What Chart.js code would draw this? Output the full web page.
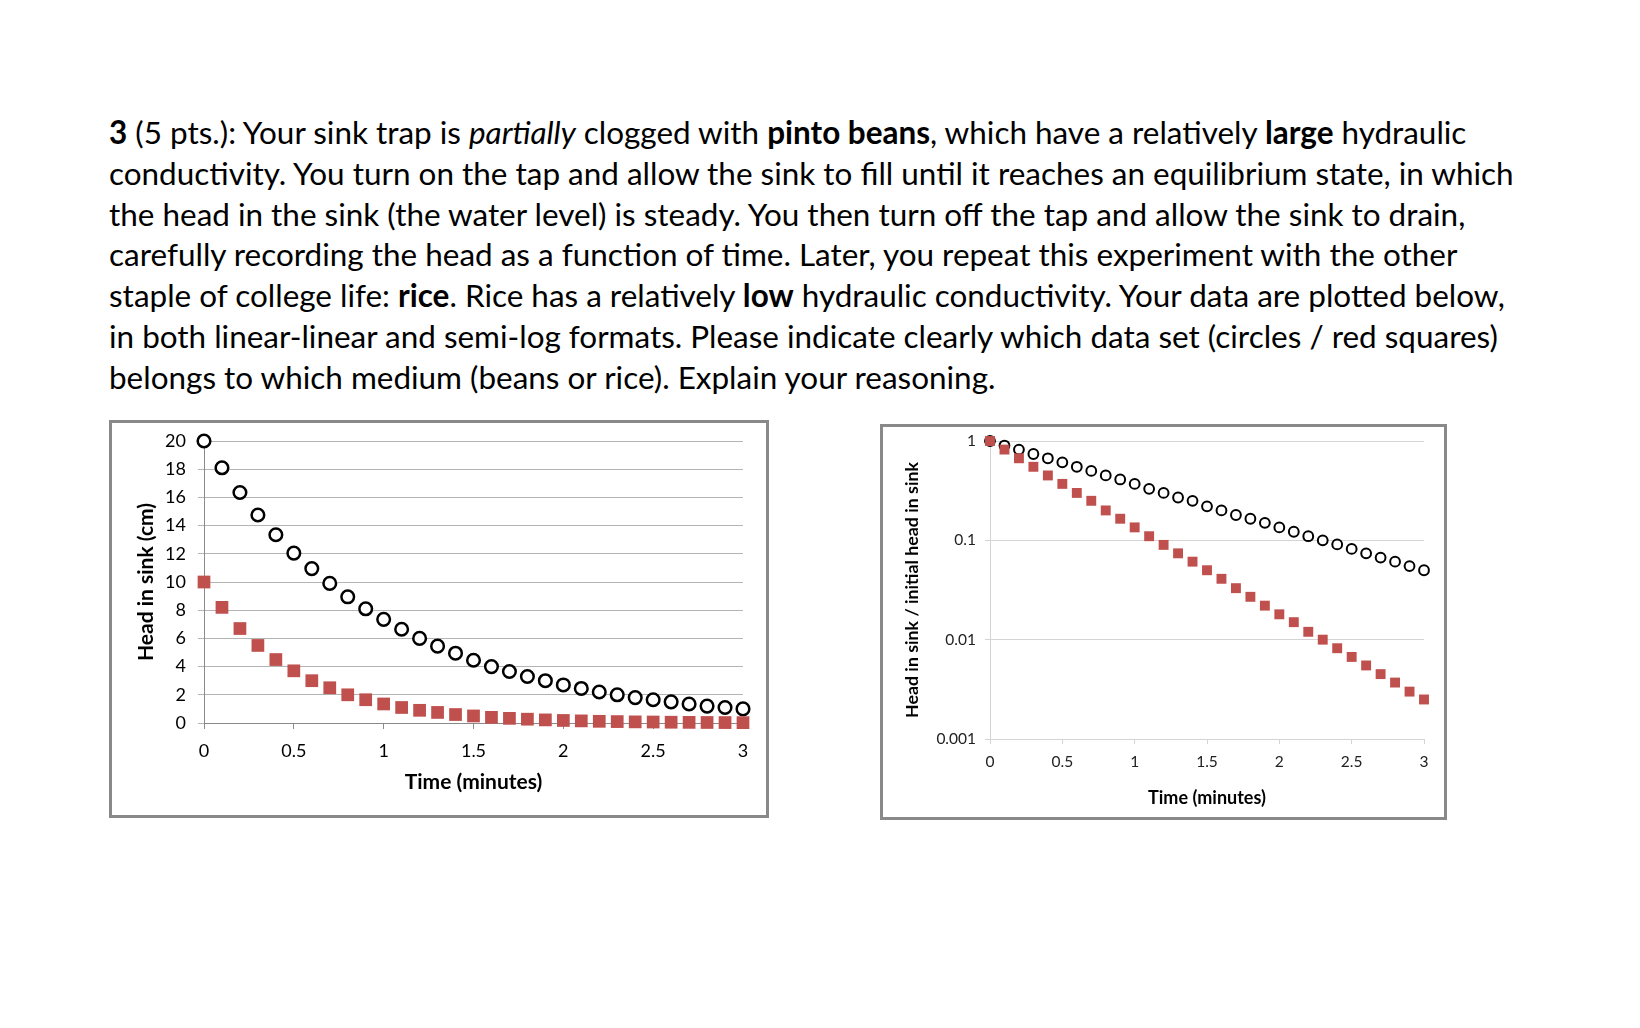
<!DOCTYPE html>
<html>
<head>
<meta charset="utf-8">
<script src="https://cdn.jsdelivr.net/npm/chart.js@4.4.1/dist/chart.umd.min.js"></script>
<style>
  body { margin: 0; background: #fff; width: 1640px; height: 1028px; position: relative; overflow: hidden; }
  #question { position: absolute; left: 109px; top: 112px; font-family: Lato, sans-serif; font-size: 31px; line-height: 40.8px; color: #000; }
  #question div { white-space: nowrap; }
  .box { position: absolute; border: 3px solid #898989; box-sizing: border-box; background: #fff; }
  .box canvas { position: absolute; left: 0; top: 0; }
</style>
</head>
<body>

<div id="question">
  <div id="line1"><b>3</b> (5 pts.): Your sink trap is <i>partially</i> clogged with <b>pinto beans</b>, which have a relatively <b>large</b> hydraulic</div>
  <div id="line2">conductivity. You turn on the tap and allow the sink to fill until it reaches an equilibrium state, in which</div>
  <div>the head in the sink (the water level) is steady. You then turn off the tap and allow the sink to drain,</div>
  <div>carefully recording the head as a function of time. Later, you repeat this experiment with the other</div>
  <div>staple of college life: <b>rice</b>. Rice has a relatively <b>low</b> hydraulic conductivity. Your data are plotted below,</div>
  <div>in both linear-linear and semi-log formats. Please indicate clearly which data set (circles / red squares)</div>
  <div>belongs to which medium (beans or rice). Explain your reasoning.</div>
</div>

<div class="box" style="left:109px; top:420px; width:660px; height:398px;">
  <canvas id="linear-chart" width="654" height="392"></canvas>
</div>
<div class="box" style="left:880px; top:424px; width:567px; height:396px;">
  <canvas id="log-chart" width="561" height="390"></canvas>
</div>

<script>
// time of each reading (minutes)
var times = [0, 0.1, 0.2, 0.3, 0.4, 0.5, 0.6, 0.7, 0.8, 0.9, 1.0,
             1.1, 1.2, 1.3, 1.4, 1.5, 1.6, 1.7, 1.8, 1.9, 2.0,
             2.1, 2.2, 2.3, 2.4, 2.5, 2.6, 2.7, 2.8, 2.9, 3.0];

// head in sink (cm)
var circleHeads = [20, 18.1, 16.35, 14.75, 13.35, 12.05, 10.95, 9.9, 8.95, 8.1, 7.35,
                   6.65, 6.0, 5.45, 4.95, 4.45, 4.0, 3.65, 3.3, 3.0, 2.7,
                   2.45, 2.2, 2.0, 1.8, 1.65, 1.5, 1.35, 1.2, 1.1, 1.0];
var squareHeads = [10, 8.2, 6.7, 5.5, 4.5, 3.7, 3.0, 2.5, 2.0, 1.65, 1.35,
                   1.1, 0.9, 0.75, 0.6, 0.5, 0.4, 0.33, 0.27, 0.22, 0.18,
                   0.15, 0.12, 0.1, 0.08, 0.07, 0.055, 0.045, 0.037, 0.03, 0.025];

// head / initial head
var circleRatios = [1, 0.9, 0.82, 0.74, 0.67, 0.61, 0.55, 0.5, 0.45, 0.41, 0.37,
                    0.33, 0.3, 0.27, 0.25, 0.22, 0.2, 0.18, 0.165, 0.15, 0.135,
                    0.122, 0.11, 0.1, 0.091, 0.082, 0.074, 0.067, 0.061, 0.055, 0.05];
var squareRatios = [1, 0.82, 0.67, 0.55, 0.45, 0.37, 0.3, 0.25, 0.2, 0.165, 0.135,
                    0.11, 0.09, 0.074, 0.061, 0.05, 0.041, 0.033, 0.027, 0.022, 0.018,
                    0.015, 0.012, 0.01, 0.0082, 0.0067, 0.0055, 0.0045, 0.0037, 0.003, 0.0025];

// tick labels
var timeTicks = [0, 0.5, 1, 1.5, 2, 2.5, 3];
var timeTickLabels = ['0', '0.5', '1', '1.5', '2', '2.5', '3'];
var headTicks = [0, 2, 4, 6, 8, 10, 12, 14, 16, 18, 20];
var ratioTicks = [0.001, 0.01, 0.1, 1];
var ratioTickLabels = ['0.001', '0.01', '0.1', '1'];

// fit the question text to the width of the page
var line2 = document.getElementById('line2');
var question = document.getElementById('question');
var w = line2.getBoundingClientRect().width;
question.style.fontSize = (31 * 1405 / w) + 'px';

// pairs up times with values for a scatter dataset
function toPoints(values) {
    var points = [];
    for (var i = 0; i < times.length; i++) {
        points.push({x: times[i], y: values[i]});
    }
    return points;
}

function fixedTicks(values) {
    return function (scale) {
        scale.ticks = values.map(function (v) { return {value: v}; });
    };
}

// fixed y axis width, no extra label padding at top/bottom
function fixedWidth(width) {
    return function (s) {
        s.width = width;
        s.paddingTop = 0;
        s.paddingBottom = 0;
    };
}

var font = 'Lato, sans-serif';

// linear-linear chart
new Chart(document.getElementById('linear-chart').getContext('2d'), {
    type: 'scatter',
    data: {
        datasets: [{
            data: toPoints(squareHeads),
            pointStyle: 'rect',
            pointRadius: 9,
            pointBorderWidth: 0,
            backgroundColor: '#C0504D',
            borderColor: '#C0504D',
            order: 0,
            clip: false
        }, {
            data: toPoints(circleHeads),
            pointStyle: 'circle',
            pointRadius: 6.3,
            pointBorderWidth: 2.5,
            backgroundColor: '#ffffff',
            borderColor: '#000000',
            order: 1,
            clip: false
        }]
    },
    options: {
        responsive: false,
        animation: false,
        layout: {padding: {left: 0, right: 23, top: 18, bottom: 0}},
        plugins: {legend: {display: false}, tooltip: {enabled: false}},
        scales: {
            x: {
                type: 'linear', min: 0, max: 3,
                afterBuildTicks: fixedTicks(timeTicks),
                afterFit: function (s) { s.height = 92; },
                grid: {drawOnChartArea: false, drawTicks: true, tickLength: 6, tickColor: '#8a8a8a'},
                border: {display: true, color: '#8a8a8a', width: 1},
                ticks: {
                    padding: 11, color: '#000', font: {family: font, size: 18},
                    maxRotation: 0,
                    callback: function (v) { return timeTickLabels[timeTicks.indexOf(v)]; }
                },
                title: {display: true, text: 'Time (minutes)', color: '#000',
                        font: {family: font, size: 21, weight: 'bold'}, padding: {top: 0, bottom: 20}}
            },
            y: {
                type: 'linear', min: 0, max: 20,
                afterBuildTicks: fixedTicks(headTicks),
                afterFit: fixedWidth(92),
                grid: {color: '#b4b4b4', drawTicks: true, tickLength: 6, tickColor: '#b4b4b4'},
                border: {display: true, color: '#8a8a8a', width: 1},
                ticks: {padding: 12, color: '#000', font: {family: font, size: 18}},
                title: {display: true, text: 'Head in sink (cm)', color: '#000',
                        font: {family: font, size: 21, weight: 'bold'}, padding: {top: 22, bottom: 0}}
            }
        }
    }
});

// semi-log chart
new Chart(document.getElementById('log-chart').getContext('2d'), {
    type: 'scatter',
    data: {
        datasets: [{
            data: toPoints(squareRatios),
            pointStyle: 'rect',
            pointRadius: 7,
            pointBorderWidth: 0,
            backgroundColor: '#C0504D',
            borderColor: '#C0504D',
            order: 0,
            clip: false
        }, {
            data: toPoints(circleRatios),
            pointStyle: 'circle',
            pointRadius: 4.9,
            pointBorderWidth: 2,
            backgroundColor: '#ffffff',
            borderColor: '#000000',
            order: 1,
            clip: false
        }]
    },
    options: {
        responsive: false,
        animation: false,
        layout: {padding: {left: 0, right: 20, top: 14, bottom: 0}},
        plugins: {legend: {display: false}, tooltip: {enabled: false}},
        scales: {
            x: {
                type: 'linear', min: 0, max: 3,
                afterBuildTicks: fixedTicks(timeTicks),
                afterFit: function (s) { s.height = 78; },
                grid: {drawOnChartArea: false, drawTicks: true, tickLength: 5, tickColor: '#d4d4d4'},
                border: {display: true, color: '#d4d4d4', width: 1},
                ticks: {
                    padding: 9, color: '#222', font: {family: font, size: 15.5},
                    maxRotation: 0,
                    callback: function (v) { return timeTickLabels[timeTicks.indexOf(v)]; }
                },
                title: {display: true, text: 'Time (minutes)', color: '#000',
                        font: {family: font, size: 18, weight: 'bold'}, padding: {top: 0, bottom: 8}}
            },
            y: {
                type: 'logarithmic', min: 0.001, max: 1,
                afterBuildTicks: fixedTicks(ratioTicks),
                afterFit: fixedWidth(107),
                grid: {color: '#d4d4d4', drawTicks: true, tickLength: 5, tickColor: '#d4d4d4'},
                border: {display: true, color: '#d4d4d4', width: 1},
                ticks: {
                    padding: 9, color: '#222', font: {family: font, size: 15.5},
                    callback: function (v) { return ratioTickLabels[ratioTicks.indexOf(v)]; }
                },
                title: {display: true, text: 'Head in sink / initial head in sink', color: '#000',
                        font: {family: font, size: 17.8, weight: 'bold'}, padding: {top: 19, bottom: 0}}
            }
        }
    }
});
</script>
</body>
</html>
